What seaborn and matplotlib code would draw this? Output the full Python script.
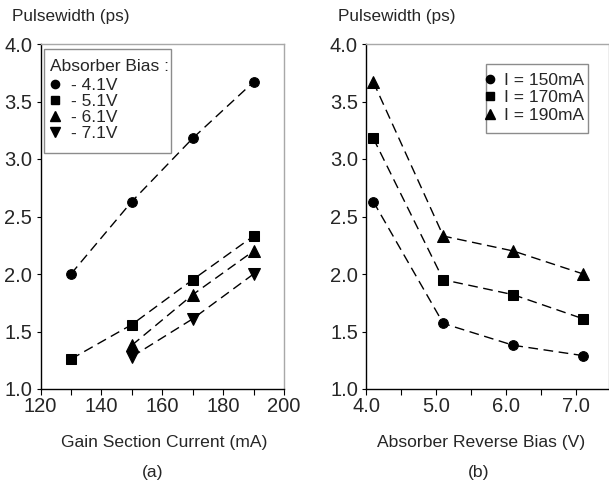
import numpy as np
import pandas as pd
import matplotlib
matplotlib.use("Agg")
import matplotlib.pyplot as plt
from matplotlib.lines import Line2D
from matplotlib.patches import Rectangle
import seaborn as sns

# ---- data ----
current_ma = [130, 150, 170, 190]
bias_labels = ["- 4.1V", "- 5.1V", "- 6.1V", "- 7.1V"]
pw_41 = [2.00, 2.63, 3.18, 3.67]
pw_51 = [1.26, 1.56, 1.95, 2.33]
pw_61 = [np.nan, 1.38, 1.82, 2.20]
pw_71 = [np.nan, 1.28, 1.61, 2.00]

bias_v = [4.1, 5.1, 6.1, 7.1]
current_labels = ["I = 150mA", "I = 170mA", "I = 190mA"]
pw_150 = [2.63, 1.57, 1.38, 1.29]
pw_170 = [3.18, 1.95, 1.82, 1.61]
pw_190 = [3.67, 2.33, 2.20, 2.00]

sns.set_style("ticks")
plt.rcParams["font.family"] = ["Liberation Sans", "DejaVu Sans"]

W, H = 609, 487
fig = plt.figure(figsize=(W / 100, H / 100), dpi=100)
axa = fig.add_axes([40.5/W, 1-389/H, (284-40.5)/W, (389-44)/H])
axb = fig.add_axes([366.3/W, 1-389/H, (W-366.3)/W, (389-44)/H])

def fx(px):
    return px / W

def fy(py):
    return 1 - py / H

dash = (7, 4)
mk_a = ["o", "s", "^", "v"]
ms_a = [7, 7, 8, 8]
for lab, vals, m, s in zip(bias_labels, [pw_41, pw_51, pw_61, pw_71], mk_a, ms_a):
    df = pd.DataFrame({"x": current_ma, "y": vals}).dropna()
    sns.lineplot(data=df, x="x", y="y", ax=axa, color="black", lw=1,
                 marker=m, markersize=s, markeredgecolor="black", dashes=False)
    axa.lines[-1].set_dashes(dash)

mk_b = ["o", "s", "^"]
ms_b = [7, 7, 8]
for lab, vals, m, s in zip(current_labels, [pw_150, pw_170, pw_190], mk_b, ms_b):
    df = pd.DataFrame({"x": bias_v, "y": vals})
    sns.lineplot(data=df, x="x", y="y", ax=axb, color="black", lw=1,
                 marker=m, markersize=s, markeredgecolor="black", dashes=False)
    axb.lines[-1].set_dashes(dash)

for ax in (axa, axb):
    ax.set_ylim(1.0, 4.0)
    ax.set_yticks([1.0, 1.5, 2.0, 2.5, 3.0, 3.5, 4.0])
    ax.set_yticklabels([f"{v:.1f}" for v in [1.0, 1.5, 2.0, 2.5, 3.0, 3.5, 4.0]])
    ax.set_ylabel("")
    for sp in ("left", "bottom"):
        ax.spines[sp].set_color("black")
        ax.spines[sp].set_linewidth(1)
    for sp in ("top", "right"):
        ax.spines[sp].set_color("#a8a8a8")
        ax.spines[sp].set_linewidth(1)
    ax.tick_params(axis="both", which="both", direction="out", labelsize=14.5,
                   color="black", width=0.8)
    ax.tick_params(axis="x", which="major", length=4, pad=2)
    ax.tick_params(axis="x", which="minor", length=4)
    ax.tick_params(axis="y", length=3, pad=3)

axa.set_xlim(120, 200)
axa.set_xticks([120, 140, 160, 180, 200])
axa.set_xticks([130, 150, 170, 190], minor=True)
axa.set_xlabel("Gain Section Current (mA)", fontsize=12.6)
axa.xaxis.set_label_coords((164 - 40.5) / (284 - 40.5), -(443 - 389) / 345)

axb.set_xlim(4.0, 4.0 + (W - 366.3) / 70.0)
axb.set_xticks([4.0, 5.0, 6.0, 7.0])
axb.set_xticklabels(["4.0", "5.0", "6.0", "7.0"])
axb.set_xticks([4.5, 5.5, 6.5], minor=True)
axb.set_xlabel("Absorber Reverse Bias (V)", fontsize=12.6)
axb.xaxis.set_label_coords((481 - 366.3) / (W - 366.3), -(443 - 389) / 345)
for ax in (axa, axb):
    ax.xaxis.label.set_va("center")

fig.text(fx(12), fy(16), "Pulsewidth (ps)", fontsize=12.3, ha="left", va="center")
fig.text(fx(338), fy(16), "Pulsewidth (ps)", fontsize=12.3, ha="left", va="center")
fig.text(fx(153), fy(472), "(a)", fontsize=12.6, ha="center", va="center")
fig.text(fx(479), fy(472), "(b)", fontsize=12.6, ha="center", va="center")

def handles(markers, sizes):
    return [Line2D([], [], color="black", marker=m, markersize=s * 0.85, linestyle="none")
            for m, s in zip(markers, sizes)]

# legend frames (drawn as boxes in figure coordinates)
for (x0, y0, x1, y1) in [(44, 49, 171, 153), (485.7, 64, 588, 133)]:
    fig.add_artist(Rectangle((fx(x0), fy(y1)), fx(x1) - fx(x0), fy(y0) - fy(y1),
                             transform=fig.transFigure, facecolor="white",
                             edgecolor="#8c8c8c", lw=1, zorder=3))

fig.text(fx(50), fy(66.5), "Absorber Bias :", fontsize=12.5, ha="left",
         va="center", zorder=4)
lega = fig.legend(handles(mk_a, ms_a), bias_labels,
                  loc="upper left", bbox_to_anchor=(fx(48), fy(78)),
                  bbox_transform=fig.transFigure, borderaxespad=0,
                  fontsize=12.5, frameon=False, handlelength=0.8,
                  handletextpad=0.55, labelspacing=0.05, borderpad=0)
lega.set_zorder(4)

legb = fig.legend(handles(mk_b, ms_b), current_labels,
                  loc="upper left", bbox_to_anchor=(fx(483), fy(73)),
                  bbox_transform=fig.transFigure, borderaxespad=0,
                  fontsize=12.5, frameon=False, handlelength=0.8,
                  handletextpad=0.4, labelspacing=0.12, borderpad=0)
legb.set_zorder(4)

fig.savefig("out.png", dpi=100)
